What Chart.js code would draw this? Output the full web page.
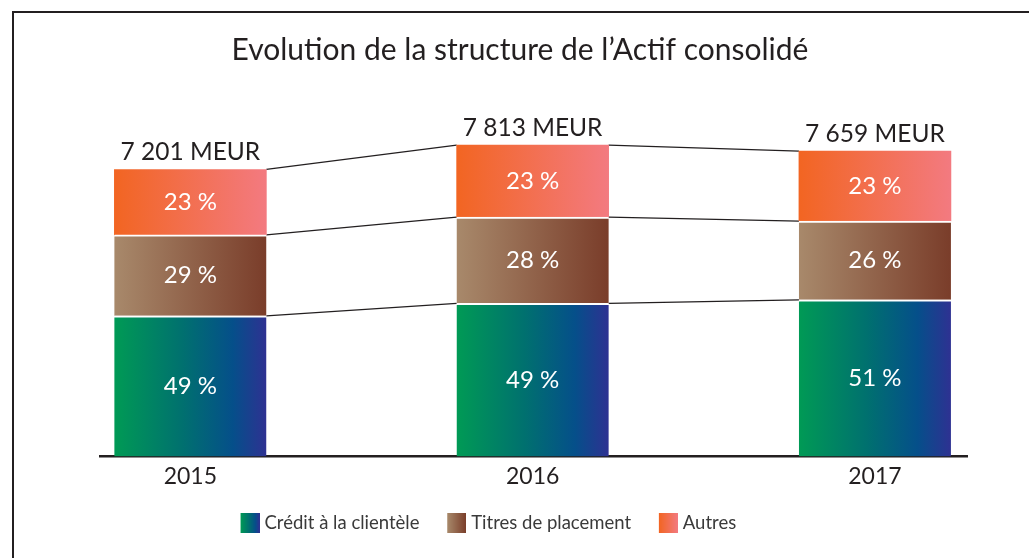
<!DOCTYPE html>
<html>
<head>
<meta charset="utf-8">
<script src="https://cdn.jsdelivr.net/npm/chart.js@4/dist/chart.umd.min.js"></script>
<style>
  html, body { margin: 0; padding: 0; background: #fff; }
  #wrap { position: relative; width: 1029px; height: 558px; overflow: hidden; }
  #frame { position: absolute; left: 12px; top: 11px; right: -10px; bottom: -10px;
           border-left: 2.5px solid #231f20; border-top: 2.5px solid #231f20; pointer-events: none; }
  canvas { display: block; }
</style>
</head>
<body>
<div id="wrap">
  <canvas id="c" width="1029" height="558"></canvas>
  <div id="frame"></div>
</div>
<script>
// ---- data ----
const years = ['2015', '2016', '2017'];
const totals = [7201, 7813, 7659];
const totalLabels = ['7 201 MEUR', '7 813 MEUR', '7 659 MEUR'];
const credit = [3530, 3843, 3930];
const titres = [2030, 2161, 1977];
const autres = [1641, 1809, 1752];
const pctCredit = [49, 49, 51];
const pctTitres = [29, 28, 26];
const pctAutres = [23, 23, 23];
const seriesNames = ['Crédit à la clientèle', 'Titres de placement', 'Autres'];
const titleText = 'Evolution de la structure de l’Actif consolidé';

const FONT = 'Lato, "Open Sans", sans-serif';
const TEXT = '#231f20';

const stopsCredit = [[0, '#009a55'], [0.45, '#00706f'], [0.78, '#054f8a'], [1, '#2e3192']];
const stopsTitres = [[0, '#a8896b'], [1, '#7a3d2a']];
const stopsAutres = [[0, '#f26522'], [1, '#f37a80']];

function makeGrad(ctx2d, x0, x1, stops) {
  const g = ctx2d.createLinearGradient(x0, 0, x1, 0);
  stops.forEach(s => g.addColorStop(s[0], s[1]));
  return g;
}
function barGrad(stops) {
  return (c) => {
    const chart = c.chart;
    if (!chart.chartArea || c.type !== 'data' || !chart.scales.x) return stops[0][1];
    const cx = chart.scales.x.getPixelForValue(c.dataIndex);
    return makeGrad(chart.ctx, cx - 76, cx + 76, stops);
  };
}
// legend swatch: 19x20 gradient box at the right of a 33px-wide canvas (left part transparent = spacing)
function swatch(stops) {
  const cv = document.createElement('canvas');
  cv.width = 33; cv.height = 20;
  const x = cv.getContext('2d');
  x.fillStyle = makeGrad(x, 14, 33, stops);
  x.fillRect(14, 0, 19, 20);
  return cv;
}
const swatches = [swatch(stopsCredit), swatch(stopsTitres), swatch(stopsAutres)];
const pcts = [pctCredit, pctTitres, pctAutres];

const decorations = {
  id: 'decorations',
  beforeDatasetsDraw(chart) {
    const ctx = chart.ctx;
    ctx.save();
    ctx.strokeStyle = TEXT;
    ctx.lineWidth = 1.2;
    chart.data.datasets.forEach((ds, d) => {
      const els = chart.getDatasetMeta(d).data;
      for (let j = 0; j < els.length - 1; j++) {
        const a = els[j], b = els[j + 1];
        ctx.beginPath();
        ctx.moveTo(a.x + a.width / 2, a.y);
        ctx.lineTo(b.x - b.width / 2, b.y);
        ctx.stroke();
      }
    });
    ctx.restore();
  },
  afterDatasetsDraw(chart) {
    const ctx = chart.ctx;
    ctx.save();
    ctx.textAlign = 'center';
    ctx.textBaseline = 'middle';
    chart.data.datasets.forEach((ds, d) => {
      const els = chart.getDatasetMeta(d).data;
      els.forEach((el, j) => {
        ctx.fillStyle = '#ffffff';
        ctx.font = '24px ' + FONT;
        ctx.fillText(pcts[d][j] + ' %', el.x, (el.y + el.base) / 2);
      });
    });
    const top = chart.getDatasetMeta(chart.data.datasets.length - 1).data;
    top.forEach((el, j) => {
      ctx.fillStyle = TEXT;
      ctx.font = '24.5px ' + FONT;
      ctx.fillText(totalLabels[j], el.x, el.y - 17);
    });
    // title
    ctx.fillStyle = TEXT;
    ctx.font = '30px ' + FONT;
    ctx.fillText(titleText, 520, 50);
    ctx.restore();
  }
};

const mk = (arr) => arr.map((v, i) => ({ x: i, y: v }));

new Chart(document.getElementById('c'), {
  type: 'bar',
  data: {
    datasets: [
      { label: seriesNames[0], data: mk(credit), backgroundColor: barGrad(stopsCredit),
        borderColor: '#ffffff', borderWidth: { top: 2, left: 0, right: 0, bottom: 0 }, borderSkipped: false },
      { label: seriesNames[1], data: mk(titres), backgroundColor: barGrad(stopsTitres),
        borderColor: '#ffffff', borderWidth: { top: 2, left: 0, right: 0, bottom: 0 }, borderSkipped: false },
      { label: seriesNames[2], data: mk(autres), backgroundColor: barGrad(stopsAutres), borderWidth: 0 }
    ]
  },
  options: {
    responsive: false,
    animation: false,
    barThickness: 152,
    layout: { padding: { left: 0, right: 62, top: 97.75, bottom: 15.4 } },
    plugins: {
      tooltip: { enabled: false },
      title: { display: false },
      legend: {
        position: 'bottom',
        labels: {
          usePointStyle: true,
          pointStyleWidth: 24.5,
          padding: 18,
          color: '#3a3a3a',
          font: { family: FONT, size: 18.5 },
          generateLabels: (chart) => seriesNames.map((n, i) => ({
            text: n, pointStyle: swatches[i], fillStyle: '#000',
            strokeStyle: 'transparent', lineWidth: 0, datasetIndex: i, hidden: false, fontColor: '#3a3a3a'
          }))
        }
      }
    },
    scales: {
      x: {
        type: 'linear',
        stacked: true,
        offset: false,
        min: -0.264,
        max: 2.269,
        afterBuildTicks: (s) => { s.ticks = years.map((_, i) => ({ value: i })); },
        ticks: { callback: (v) => years[v], color: TEXT, font: { family: FONT, size: 23 }, padding: 6, maxRotation: 0 },
        grid: { display: false, drawTicks: false, offset: false },
        border: { display: true, color: TEXT, width: 2.5 }
      },
      y: {
        stacked: true,
        display: true,
        min: 0,
        max: 9000,
        afterFit: (s) => { s.width = 100; },
        ticks: { display: false },
        grid: { display: false, drawTicks: false },
        border: { display: false }
      }
    }
  },
  plugins: [decorations]
});
</script>
</body>
</html>
